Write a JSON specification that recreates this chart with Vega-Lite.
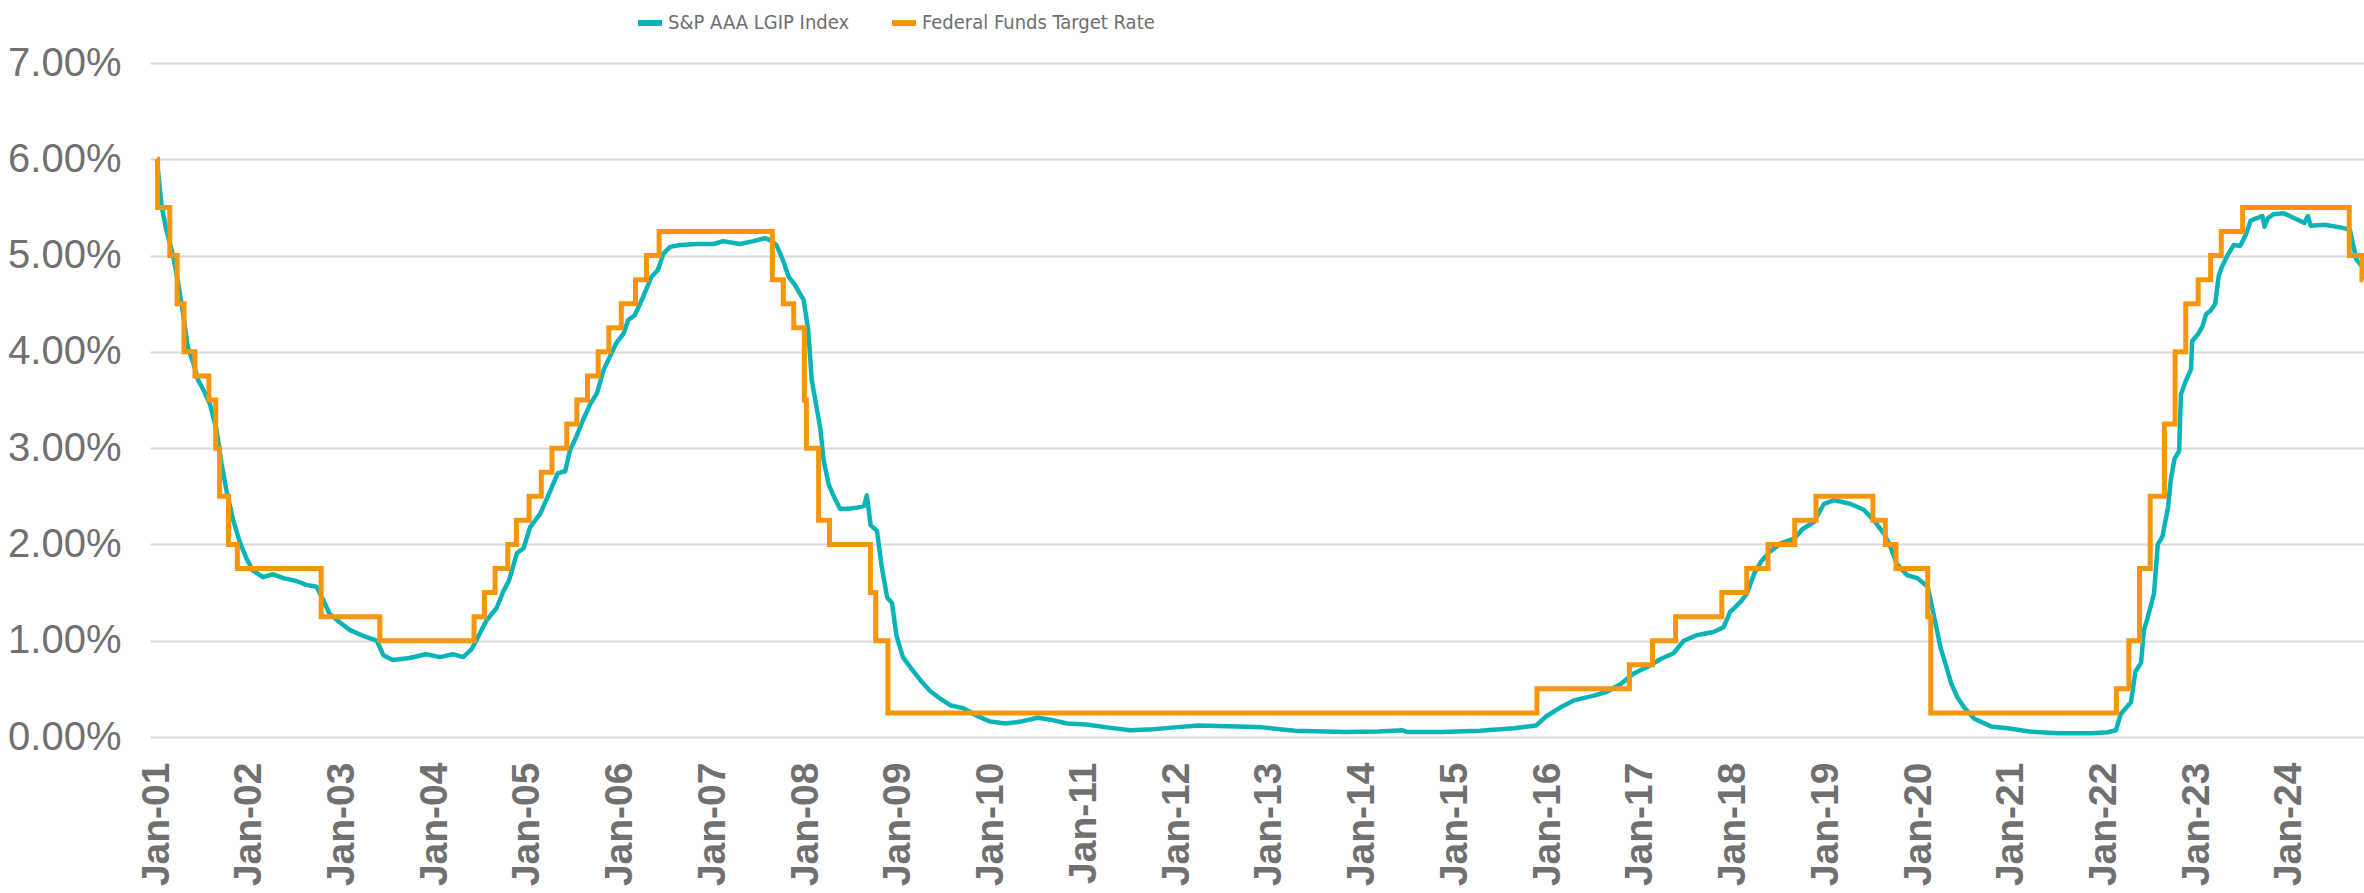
{
  "$schema": "https://vega.github.io/schema/vega-lite/v6.json",
  "width": 2214,
  "height": 674,
  "autosize": {"type": "none"},
  "padding": {"left": 150, "top": 63, "right": 0, "bottom": 156},
  "background": "white",
  "config": {
    "view": {"stroke": null},
    "font": "Liberation Sans"
  },
  "datasets": {
    "lgip": [
      {"date": "2001-01-28", "rate": 6.00, "series": "S&P AAA LGIP Index"},
      {"date": "2001-02-16", "rate": 5.51, "series": "S&P AAA LGIP Index"},
      {"date": "2001-03-07", "rate": 5.26, "series": "S&P AAA LGIP Index"},
      {"date": "2001-04-02", "rate": 5.00, "series": "S&P AAA LGIP Index"},
      {"date": "2001-04-23", "rate": 4.70, "series": "S&P AAA LGIP Index"},
      {"date": "2001-05-11", "rate": 4.40, "series": "S&P AAA LGIP Index"},
      {"date": "2001-05-30", "rate": 4.05, "series": "S&P AAA LGIP Index"},
      {"date": "2001-06-21", "rate": 3.88, "series": "S&P AAA LGIP Index"},
      {"date": "2001-07-09", "rate": 3.71, "series": "S&P AAA LGIP Index"},
      {"date": "2001-08-04", "rate": 3.58, "series": "S&P AAA LGIP Index"},
      {"date": "2001-08-26", "rate": 3.45, "series": "S&P AAA LGIP Index"},
      {"date": "2001-09-20", "rate": 3.19, "series": "S&P AAA LGIP Index"},
      {"date": "2001-10-09", "rate": 2.85, "series": "S&P AAA LGIP Index"},
      {"date": "2001-10-30", "rate": 2.55, "series": "S&P AAA LGIP Index"},
      {"date": "2001-11-25", "rate": 2.25, "series": "S&P AAA LGIP Index"},
      {"date": "2001-12-20", "rate": 2.03, "series": "S&P AAA LGIP Index"},
      {"date": "2002-01-15", "rate": 1.86, "series": "S&P AAA LGIP Index"},
      {"date": "2002-02-10", "rate": 1.73, "series": "S&P AAA LGIP Index"},
      {"date": "2002-03-22", "rate": 1.66, "series": "S&P AAA LGIP Index"},
      {"date": "2002-05-01", "rate": 1.69, "series": "S&P AAA LGIP Index"},
      {"date": "2002-06-10", "rate": 1.65, "series": "S&P AAA LGIP Index"},
      {"date": "2002-07-31", "rate": 1.62, "series": "S&P AAA LGIP Index"},
      {"date": "2002-09-09", "rate": 1.58, "series": "S&P AAA LGIP Index"},
      {"date": "2002-10-19", "rate": 1.56, "series": "S&P AAA LGIP Index"},
      {"date": "2002-11-13", "rate": 1.43, "series": "S&P AAA LGIP Index"},
      {"date": "2002-12-09", "rate": 1.28, "series": "S&P AAA LGIP Index"},
      {"date": "2003-01-19", "rate": 1.19, "series": "S&P AAA LGIP Index"},
      {"date": "2003-02-28", "rate": 1.11, "series": "S&P AAA LGIP Index"},
      {"date": "2003-04-20", "rate": 1.05, "series": "S&P AAA LGIP Index"},
      {"date": "2003-06-13", "rate": 1.00, "series": "S&P AAA LGIP Index"},
      {"date": "2003-07-09", "rate": 0.85, "series": "S&P AAA LGIP Index"},
      {"date": "2003-08-15", "rate": 0.80, "series": "S&P AAA LGIP Index"},
      {"date": "2003-10-20", "rate": 0.82, "series": "S&P AAA LGIP Index"},
      {"date": "2003-12-24", "rate": 0.86, "series": "S&P AAA LGIP Index"},
      {"date": "2004-02-17", "rate": 0.83, "series": "S&P AAA LGIP Index"},
      {"date": "2004-04-08", "rate": 0.86, "series": "S&P AAA LGIP Index"},
      {"date": "2004-05-18", "rate": 0.83, "series": "S&P AAA LGIP Index"},
      {"date": "2004-06-20", "rate": 0.91, "series": "S&P AAA LGIP Index"},
      {"date": "2004-07-16", "rate": 1.04, "series": "S&P AAA LGIP Index"},
      {"date": "2004-08-18", "rate": 1.21, "series": "S&P AAA LGIP Index"},
      {"date": "2004-09-27", "rate": 1.34, "series": "S&P AAA LGIP Index"},
      {"date": "2004-10-23", "rate": 1.51, "series": "S&P AAA LGIP Index"},
      {"date": "2004-11-14", "rate": 1.62, "series": "S&P AAA LGIP Index"},
      {"date": "2004-12-16", "rate": 1.91, "series": "S&P AAA LGIP Index"},
      {"date": "2005-01-11", "rate": 1.96, "series": "S&P AAA LGIP Index"},
      {"date": "2005-02-06", "rate": 2.18, "series": "S&P AAA LGIP Index"},
      {"date": "2005-03-18", "rate": 2.32, "series": "S&P AAA LGIP Index"},
      {"date": "2005-04-27", "rate": 2.56, "series": "S&P AAA LGIP Index"},
      {"date": "2005-05-26", "rate": 2.74, "series": "S&P AAA LGIP Index"},
      {"date": "2005-06-24", "rate": 2.76, "series": "S&P AAA LGIP Index"},
      {"date": "2005-07-13", "rate": 2.98, "series": "S&P AAA LGIP Index"},
      {"date": "2005-08-07", "rate": 3.12, "series": "S&P AAA LGIP Index"},
      {"date": "2005-09-02", "rate": 3.29, "series": "S&P AAA LGIP Index"},
      {"date": "2005-10-01", "rate": 3.46, "series": "S&P AAA LGIP Index"},
      {"date": "2005-10-27", "rate": 3.57, "series": "S&P AAA LGIP Index"},
      {"date": "2005-11-22", "rate": 3.81, "series": "S&P AAA LGIP Index"},
      {"date": "2005-12-17", "rate": 3.95, "series": "S&P AAA LGIP Index"},
      {"date": "2006-01-11", "rate": 4.09, "series": "S&P AAA LGIP Index"},
      {"date": "2006-02-09", "rate": 4.19, "series": "S&P AAA LGIP Index"},
      {"date": "2006-02-27", "rate": 4.33, "series": "S&P AAA LGIP Index"},
      {"date": "2006-03-25", "rate": 4.38, "series": "S&P AAA LGIP Index"},
      {"date": "2006-04-27", "rate": 4.57, "series": "S&P AAA LGIP Index"},
      {"date": "2006-05-30", "rate": 4.78, "series": "S&P AAA LGIP Index"},
      {"date": "2006-06-24", "rate": 4.85, "series": "S&P AAA LGIP Index"},
      {"date": "2006-07-16", "rate": 5.02, "series": "S&P AAA LGIP Index"},
      {"date": "2006-08-11", "rate": 5.09, "series": "S&P AAA LGIP Index"},
      {"date": "2006-09-20", "rate": 5.11, "series": "S&P AAA LGIP Index"},
      {"date": "2006-11-25", "rate": 5.12, "series": "S&P AAA LGIP Index"},
      {"date": "2007-01-30", "rate": 5.12, "series": "S&P AAA LGIP Index"},
      {"date": "2007-03-08", "rate": 5.15, "series": "S&P AAA LGIP Index"},
      {"date": "2007-05-12", "rate": 5.12, "series": "S&P AAA LGIP Index"},
      {"date": "2007-07-06", "rate": 5.15, "series": "S&P AAA LGIP Index"},
      {"date": "2007-08-19", "rate": 5.18, "series": "S&P AAA LGIP Index"},
      {"date": "2007-09-09", "rate": 5.16, "series": "S&P AAA LGIP Index"},
      {"date": "2007-10-04", "rate": 5.11, "series": "S&P AAA LGIP Index"},
      {"date": "2007-10-30", "rate": 4.95, "series": "S&P AAA LGIP Index"},
      {"date": "2007-11-21", "rate": 4.78, "series": "S&P AAA LGIP Index"},
      {"date": "2007-12-17", "rate": 4.69, "series": "S&P AAA LGIP Index"},
      {"date": "2008-01-19", "rate": 4.54, "series": "S&P AAA LGIP Index"},
      {"date": "2008-02-06", "rate": 4.23, "series": "S&P AAA LGIP Index"},
      {"date": "2008-02-20", "rate": 3.71, "series": "S&P AAA LGIP Index"},
      {"date": "2008-03-25", "rate": 3.20, "series": "S&P AAA LGIP Index"},
      {"date": "2008-04-07", "rate": 2.87, "series": "S&P AAA LGIP Index"},
      {"date": "2008-04-27", "rate": 2.62, "series": "S&P AAA LGIP Index"},
      {"date": "2008-05-15", "rate": 2.51, "series": "S&P AAA LGIP Index"},
      {"date": "2008-06-10", "rate": 2.37, "series": "S&P AAA LGIP Index"},
      {"date": "2008-07-10", "rate": 2.37, "series": "S&P AAA LGIP Index"},
      {"date": "2008-08-15", "rate": 2.38, "series": "S&P AAA LGIP Index"},
      {"date": "2008-09-13", "rate": 2.40, "series": "S&P AAA LGIP Index"},
      {"date": "2008-09-24", "rate": 2.51, "series": "S&P AAA LGIP Index"},
      {"date": "2008-10-09", "rate": 2.20, "series": "S&P AAA LGIP Index"},
      {"date": "2008-11-03", "rate": 2.14, "series": "S&P AAA LGIP Index"},
      {"date": "2008-11-21", "rate": 1.78, "series": "S&P AAA LGIP Index"},
      {"date": "2008-12-13", "rate": 1.45, "series": "S&P AAA LGIP Index"},
      {"date": "2009-01-01", "rate": 1.39, "series": "S&P AAA LGIP Index"},
      {"date": "2009-01-19", "rate": 1.05, "series": "S&P AAA LGIP Index"},
      {"date": "2009-02-13", "rate": 0.83, "series": "S&P AAA LGIP Index"},
      {"date": "2009-03-18", "rate": 0.71, "series": "S&P AAA LGIP Index"},
      {"date": "2009-04-23", "rate": 0.59, "series": "S&P AAA LGIP Index"},
      {"date": "2009-05-30", "rate": 0.48, "series": "S&P AAA LGIP Index"},
      {"date": "2009-07-09", "rate": 0.40, "series": "S&P AAA LGIP Index"},
      {"date": "2009-08-18", "rate": 0.33, "series": "S&P AAA LGIP Index"},
      {"date": "2009-10-08", "rate": 0.30, "series": "S&P AAA LGIP Index"},
      {"date": "2009-12-02", "rate": 0.22, "series": "S&P AAA LGIP Index"},
      {"date": "2010-01-23", "rate": 0.16, "series": "S&P AAA LGIP Index"},
      {"date": "2010-03-24", "rate": 0.14, "series": "S&P AAA LGIP Index"},
      {"date": "2010-05-23", "rate": 0.16, "series": "S&P AAA LGIP Index"},
      {"date": "2010-07-28", "rate": 0.20, "series": "S&P AAA LGIP Index"},
      {"date": "2010-09-17", "rate": 0.18, "series": "S&P AAA LGIP Index"},
      {"date": "2010-11-22", "rate": 0.14, "series": "S&P AAA LGIP Index"},
      {"date": "2011-02-06", "rate": 0.13, "series": "S&P AAA LGIP Index"},
      {"date": "2011-04-28", "rate": 0.10, "series": "S&P AAA LGIP Index"},
      {"date": "2011-07-28", "rate": 0.07, "series": "S&P AAA LGIP Index"},
      {"date": "2011-10-27", "rate": 0.08, "series": "S&P AAA LGIP Index"},
      {"date": "2012-01-19", "rate": 0.10, "series": "S&P AAA LGIP Index"},
      {"date": "2012-04-22", "rate": 0.12, "series": "S&P AAA LGIP Index"},
      {"date": "2012-09-24", "rate": 0.11, "series": "S&P AAA LGIP Index"},
      {"date": "2012-12-28", "rate": 0.10, "series": "S&P AAA LGIP Index"},
      {"date": "2013-05-08", "rate": 0.066, "series": "S&P AAA LGIP Index"},
      {"date": "2013-11-18", "rate": 0.052, "series": "S&P AAA LGIP Index"},
      {"date": "2014-04-02", "rate": 0.056, "series": "S&P AAA LGIP Index"},
      {"date": "2014-07-05", "rate": 0.07, "series": "S&P AAA LGIP Index"},
      {"date": "2014-07-24", "rate": 0.052, "series": "S&P AAA LGIP Index"},
      {"date": "2014-12-06", "rate": 0.052, "series": "S&P AAA LGIP Index"},
      {"date": "2015-05-05", "rate": 0.066, "series": "S&P AAA LGIP Index"},
      {"date": "2015-09-16", "rate": 0.09, "series": "S&P AAA LGIP Index"},
      {"date": "2015-12-13", "rate": 0.12, "series": "S&P AAA LGIP Index"},
      {"date": "2016-01-19", "rate": 0.21, "series": "S&P AAA LGIP Index"},
      {"date": "2016-03-26", "rate": 0.32, "series": "S&P AAA LGIP Index"},
      {"date": "2016-05-09", "rate": 0.38, "series": "S&P AAA LGIP Index"},
      {"date": "2016-07-27", "rate": 0.43, "series": "S&P AAA LGIP Index"},
      {"date": "2016-09-16", "rate": 0.47, "series": "S&P AAA LGIP Index"},
      {"date": "2016-11-10", "rate": 0.55, "series": "S&P AAA LGIP Index"},
      {"date": "2016-12-31", "rate": 0.66, "series": "S&P AAA LGIP Index"},
      {"date": "2017-02-24", "rate": 0.73, "series": "S&P AAA LGIP Index"},
      {"date": "2017-04-16", "rate": 0.81, "series": "S&P AAA LGIP Index"},
      {"date": "2017-06-06", "rate": 0.87, "series": "S&P AAA LGIP Index"},
      {"date": "2017-07-16", "rate": 1.00, "series": "S&P AAA LGIP Index"},
      {"date": "2017-09-09", "rate": 1.06, "series": "S&P AAA LGIP Index"},
      {"date": "2017-11-10", "rate": 1.09, "series": "S&P AAA LGIP Index"},
      {"date": "2017-12-20", "rate": 1.14, "series": "S&P AAA LGIP Index"},
      {"date": "2018-01-15", "rate": 1.30, "series": "S&P AAA LGIP Index"},
      {"date": "2018-02-24", "rate": 1.40, "series": "S&P AAA LGIP Index"},
      {"date": "2018-03-22", "rate": 1.49, "series": "S&P AAA LGIP Index"},
      {"date": "2018-04-20", "rate": 1.70, "series": "S&P AAA LGIP Index"},
      {"date": "2018-05-16", "rate": 1.82, "series": "S&P AAA LGIP Index"},
      {"date": "2018-06-18", "rate": 1.92, "series": "S&P AAA LGIP Index"},
      {"date": "2018-08-01", "rate": 2.01, "series": "S&P AAA LGIP Index"},
      {"date": "2018-09-24", "rate": 2.06, "series": "S&P AAA LGIP Index"},
      {"date": "2018-10-27", "rate": 2.16, "series": "S&P AAA LGIP Index"},
      {"date": "2018-12-09", "rate": 2.23, "series": "S&P AAA LGIP Index"},
      {"date": "2019-01-19", "rate": 2.42, "series": "S&P AAA LGIP Index"},
      {"date": "2019-02-28", "rate": 2.46, "series": "S&P AAA LGIP Index"},
      {"date": "2019-05-05", "rate": 2.42, "series": "S&P AAA LGIP Index"},
      {"date": "2019-06-25", "rate": 2.36, "series": "S&P AAA LGIP Index"},
      {"date": "2019-08-04", "rate": 2.25, "series": "S&P AAA LGIP Index"},
      {"date": "2019-09-13", "rate": 2.11, "series": "S&P AAA LGIP Index"},
      {"date": "2019-10-09", "rate": 1.97, "series": "S&P AAA LGIP Index"},
      {"date": "2019-11-02", "rate": 1.80, "series": "S&P AAA LGIP Index"},
      {"date": "2019-12-13", "rate": 1.68, "series": "S&P AAA LGIP Index"},
      {"date": "2020-01-22", "rate": 1.65, "series": "S&P AAA LGIP Index"},
      {"date": "2020-03-03", "rate": 1.56, "series": "S&P AAA LGIP Index"},
      {"date": "2020-03-28", "rate": 1.25, "series": "S&P AAA LGIP Index"},
      {"date": "2020-04-23", "rate": 0.92, "series": "S&P AAA LGIP Index"},
      {"date": "2020-05-12", "rate": 0.76, "series": "S&P AAA LGIP Index"},
      {"date": "2020-06-03", "rate": 0.56, "series": "S&P AAA LGIP Index"},
      {"date": "2020-06-28", "rate": 0.41, "series": "S&P AAA LGIP Index"},
      {"date": "2020-07-24", "rate": 0.31, "series": "S&P AAA LGIP Index"},
      {"date": "2020-09-02", "rate": 0.19, "series": "S&P AAA LGIP Index"},
      {"date": "2020-11-07", "rate": 0.11, "series": "S&P AAA LGIP Index"},
      {"date": "2021-01-12", "rate": 0.09, "series": "S&P AAA LGIP Index"},
      {"date": "2021-04-13", "rate": 0.055, "series": "S&P AAA LGIP Index"},
      {"date": "2021-07-28", "rate": 0.04, "series": "S&P AAA LGIP Index"},
      {"date": "2021-12-06", "rate": 0.04, "series": "S&P AAA LGIP Index"},
      {"date": "2022-02-10", "rate": 0.05, "series": "S&P AAA LGIP Index"},
      {"date": "2022-03-14", "rate": 0.07, "series": "S&P AAA LGIP Index"},
      {"date": "2022-04-02", "rate": 0.24, "series": "S&P AAA LGIP Index"},
      {"date": "2022-05-12", "rate": 0.36, "series": "S&P AAA LGIP Index"},
      {"date": "2022-05-30", "rate": 0.68, "series": "S&P AAA LGIP Index"},
      {"date": "2022-06-21", "rate": 0.77, "series": "S&P AAA LGIP Index"},
      {"date": "2022-07-02", "rate": 1.11, "series": "S&P AAA LGIP Index"},
      {"date": "2022-07-16", "rate": 1.23, "series": "S&P AAA LGIP Index"},
      {"date": "2022-08-11", "rate": 1.49, "series": "S&P AAA LGIP Index"},
      {"date": "2022-08-26", "rate": 2.00, "series": "S&P AAA LGIP Index"},
      {"date": "2022-09-13", "rate": 2.08, "series": "S&P AAA LGIP Index"},
      {"date": "2022-10-05", "rate": 2.38, "series": "S&P AAA LGIP Index"},
      {"date": "2022-10-16", "rate": 2.67, "series": "S&P AAA LGIP Index"},
      {"date": "2022-10-31", "rate": 2.89, "series": "S&P AAA LGIP Index"},
      {"date": "2022-11-18", "rate": 2.97, "series": "S&P AAA LGIP Index"},
      {"date": "2022-11-25", "rate": 3.56, "series": "S&P AAA LGIP Index"},
      {"date": "2022-12-13", "rate": 3.69, "series": "S&P AAA LGIP Index"},
      {"date": "2023-01-04", "rate": 3.82, "series": "S&P AAA LGIP Index"},
      {"date": "2023-01-08", "rate": 4.11, "series": "S&P AAA LGIP Index"},
      {"date": "2023-01-30", "rate": 4.18, "series": "S&P AAA LGIP Index"},
      {"date": "2023-02-17", "rate": 4.26, "series": "S&P AAA LGIP Index"},
      {"date": "2023-03-04", "rate": 4.39, "series": "S&P AAA LGIP Index"},
      {"date": "2023-03-22", "rate": 4.43, "series": "S&P AAA LGIP Index"},
      {"date": "2023-04-09", "rate": 4.50, "series": "S&P AAA LGIP Index"},
      {"date": "2023-04-23", "rate": 4.79, "series": "S&P AAA LGIP Index"},
      {"date": "2023-05-05", "rate": 4.88, "series": "S&P AAA LGIP Index"},
      {"date": "2023-05-27", "rate": 5.00, "series": "S&P AAA LGIP Index"},
      {"date": "2023-06-21", "rate": 5.11, "series": "S&P AAA LGIP Index"},
      {"date": "2023-07-16", "rate": 5.10, "series": "S&P AAA LGIP Index"},
      {"date": "2023-08-08", "rate": 5.22, "series": "S&P AAA LGIP Index"},
      {"date": "2023-08-26", "rate": 5.36, "series": "S&P AAA LGIP Index"},
      {"date": "2023-09-20", "rate": 5.39, "series": "S&P AAA LGIP Index"},
      {"date": "2023-10-12", "rate": 5.41, "series": "S&P AAA LGIP Index"},
      {"date": "2023-10-20", "rate": 5.30, "series": "S&P AAA LGIP Index"},
      {"date": "2023-11-03", "rate": 5.39, "series": "S&P AAA LGIP Index"},
      {"date": "2023-11-25", "rate": 5.43, "series": "S&P AAA LGIP Index"},
      {"date": "2024-01-04", "rate": 5.44, "series": "S&P AAA LGIP Index"},
      {"date": "2024-02-13", "rate": 5.39, "series": "S&P AAA LGIP Index"},
      {"date": "2024-03-25", "rate": 5.34, "series": "S&P AAA LGIP Index"},
      {"date": "2024-04-08", "rate": 5.41, "series": "S&P AAA LGIP Index"},
      {"date": "2024-04-19", "rate": 5.31, "series": "S&P AAA LGIP Index"},
      {"date": "2024-06-13", "rate": 5.32, "series": "S&P AAA LGIP Index"},
      {"date": "2024-08-18", "rate": 5.29, "series": "S&P AAA LGIP Index"},
      {"date": "2024-09-20", "rate": 5.27, "series": "S&P AAA LGIP Index"},
      {"date": "2024-10-16", "rate": 4.96, "series": "S&P AAA LGIP Index"},
      {"date": "2024-11-09", "rate": 4.88, "series": "S&P AAA LGIP Index"}
    ],
    "ffr": [
      {"date": "2001-01-28", "rate": 6.00, "series": "Federal Funds Target Rate"},
      {"date": "2001-01-31", "rate": 5.50, "series": "Federal Funds Target Rate"},
      {"date": "2001-03-20", "rate": 5.00, "series": "Federal Funds Target Rate"},
      {"date": "2001-04-18", "rate": 4.50, "series": "Federal Funds Target Rate"},
      {"date": "2001-05-15", "rate": 4.00, "series": "Federal Funds Target Rate"},
      {"date": "2001-06-27", "rate": 3.75, "series": "Federal Funds Target Rate"},
      {"date": "2001-08-21", "rate": 3.50, "series": "Federal Funds Target Rate"},
      {"date": "2001-09-17", "rate": 3.00, "series": "Federal Funds Target Rate"},
      {"date": "2001-10-02", "rate": 2.50, "series": "Federal Funds Target Rate"},
      {"date": "2001-11-06", "rate": 2.00, "series": "Federal Funds Target Rate"},
      {"date": "2001-12-11", "rate": 1.75, "series": "Federal Funds Target Rate"},
      {"date": "2002-11-06", "rate": 1.25, "series": "Federal Funds Target Rate"},
      {"date": "2003-06-25", "rate": 1.00, "series": "Federal Funds Target Rate"},
      {"date": "2004-06-30", "rate": 1.25, "series": "Federal Funds Target Rate"},
      {"date": "2004-08-10", "rate": 1.50, "series": "Federal Funds Target Rate"},
      {"date": "2004-09-21", "rate": 1.75, "series": "Federal Funds Target Rate"},
      {"date": "2004-11-10", "rate": 2.00, "series": "Federal Funds Target Rate"},
      {"date": "2004-12-14", "rate": 2.25, "series": "Federal Funds Target Rate"},
      {"date": "2005-02-02", "rate": 2.50, "series": "Federal Funds Target Rate"},
      {"date": "2005-03-22", "rate": 2.75, "series": "Federal Funds Target Rate"},
      {"date": "2005-05-03", "rate": 3.00, "series": "Federal Funds Target Rate"},
      {"date": "2005-06-30", "rate": 3.25, "series": "Federal Funds Target Rate"},
      {"date": "2005-08-09", "rate": 3.50, "series": "Federal Funds Target Rate"},
      {"date": "2005-09-20", "rate": 3.75, "series": "Federal Funds Target Rate"},
      {"date": "2005-11-01", "rate": 4.00, "series": "Federal Funds Target Rate"},
      {"date": "2005-12-13", "rate": 4.25, "series": "Federal Funds Target Rate"},
      {"date": "2006-01-31", "rate": 4.50, "series": "Federal Funds Target Rate"},
      {"date": "2006-03-28", "rate": 4.75, "series": "Federal Funds Target Rate"},
      {"date": "2006-05-10", "rate": 5.00, "series": "Federal Funds Target Rate"},
      {"date": "2006-06-29", "rate": 5.25, "series": "Federal Funds Target Rate"},
      {"date": "2007-09-18", "rate": 4.75, "series": "Federal Funds Target Rate"},
      {"date": "2007-10-31", "rate": 4.50, "series": "Federal Funds Target Rate"},
      {"date": "2007-12-11", "rate": 4.25, "series": "Federal Funds Target Rate"},
      {"date": "2008-01-22", "rate": 3.50, "series": "Federal Funds Target Rate"},
      {"date": "2008-01-30", "rate": 3.00, "series": "Federal Funds Target Rate"},
      {"date": "2008-03-18", "rate": 2.25, "series": "Federal Funds Target Rate"},
      {"date": "2008-04-30", "rate": 2.00, "series": "Federal Funds Target Rate"},
      {"date": "2008-10-08", "rate": 1.50, "series": "Federal Funds Target Rate"},
      {"date": "2008-10-29", "rate": 1.00, "series": "Federal Funds Target Rate"},
      {"date": "2008-12-16", "rate": 0.25, "series": "Federal Funds Target Rate"},
      {"date": "2015-12-16", "rate": 0.50, "series": "Federal Funds Target Rate"},
      {"date": "2016-12-14", "rate": 0.75, "series": "Federal Funds Target Rate"},
      {"date": "2017-03-15", "rate": 1.00, "series": "Federal Funds Target Rate"},
      {"date": "2017-06-14", "rate": 1.25, "series": "Federal Funds Target Rate"},
      {"date": "2017-12-13", "rate": 1.50, "series": "Federal Funds Target Rate"},
      {"date": "2018-03-21", "rate": 1.75, "series": "Federal Funds Target Rate"},
      {"date": "2018-06-13", "rate": 2.00, "series": "Federal Funds Target Rate"},
      {"date": "2018-09-26", "rate": 2.25, "series": "Federal Funds Target Rate"},
      {"date": "2018-12-19", "rate": 2.50, "series": "Federal Funds Target Rate"},
      {"date": "2019-07-31", "rate": 2.25, "series": "Federal Funds Target Rate"},
      {"date": "2019-09-18", "rate": 2.00, "series": "Federal Funds Target Rate"},
      {"date": "2019-10-30", "rate": 1.75, "series": "Federal Funds Target Rate"},
      {"date": "2020-03-03", "rate": 1.25, "series": "Federal Funds Target Rate"},
      {"date": "2020-03-15", "rate": 0.25, "series": "Federal Funds Target Rate"},
      {"date": "2022-03-16", "rate": 0.50, "series": "Federal Funds Target Rate"},
      {"date": "2022-05-04", "rate": 1.00, "series": "Federal Funds Target Rate"},
      {"date": "2022-06-15", "rate": 1.75, "series": "Federal Funds Target Rate"},
      {"date": "2022-07-27", "rate": 2.50, "series": "Federal Funds Target Rate"},
      {"date": "2022-09-21", "rate": 3.25, "series": "Federal Funds Target Rate"},
      {"date": "2022-11-02", "rate": 4.00, "series": "Federal Funds Target Rate"},
      {"date": "2022-12-14", "rate": 4.50, "series": "Federal Funds Target Rate"},
      {"date": "2023-02-01", "rate": 4.75, "series": "Federal Funds Target Rate"},
      {"date": "2023-03-22", "rate": 5.00, "series": "Federal Funds Target Rate"},
      {"date": "2023-05-03", "rate": 5.25, "series": "Federal Funds Target Rate"},
      {"date": "2023-07-26", "rate": 5.50, "series": "Federal Funds Target Rate"},
      {"date": "2024-09-18", "rate": 5.00, "series": "Federal Funds Target Rate"},
      {"date": "2024-11-07", "rate": 4.75, "series": "Federal Funds Target Rate"},
      {"date": "2024-11-12", "rate": 4.75, "series": "Federal Funds Target Rate"}
    ]
  },
  "encoding": {
    "x": {
      "field": "date",
      "type": "temporal",
      "scale": {"domain": [{"year": 2001, "month": 1, "date": 1}, {"year": 2024, "month": 11, "date": 15}]},
      "axis": {
        "title": null,
        "values": [
          {"year": 2001, "month": 1, "date": 1}, {"year": 2002, "month": 1, "date": 1}, {"year": 2003, "month": 1, "date": 1},
          {"year": 2004, "month": 1, "date": 1}, {"year": 2005, "month": 1, "date": 1}, {"year": 2006, "month": 1, "date": 1},
          {"year": 2007, "month": 1, "date": 1}, {"year": 2008, "month": 1, "date": 1}, {"year": 2009, "month": 1, "date": 1},
          {"year": 2010, "month": 1, "date": 1}, {"year": 2011, "month": 1, "date": 1}, {"year": 2012, "month": 1, "date": 1},
          {"year": 2013, "month": 1, "date": 1}, {"year": 2014, "month": 1, "date": 1}, {"year": 2015, "month": 1, "date": 1},
          {"year": 2016, "month": 1, "date": 1}, {"year": 2017, "month": 1, "date": 1}, {"year": 2018, "month": 1, "date": 1},
          {"year": 2019, "month": 1, "date": 1}, {"year": 2020, "month": 1, "date": 1}, {"year": 2021, "month": 1, "date": 1},
          {"year": 2022, "month": 1, "date": 1}, {"year": 2023, "month": 1, "date": 1}, {"year": 2024, "month": 1, "date": 1}
        ],
        "format": "%b-%y",
        "labelAngle": -90,
        "labelAlign": "right",
        "labelBaseline": "middle",
        "labelFont": "Liberation Sans",
        "labelFontSize": 39,
        "labelFontWeight": "bold",
        "labelColor": "#707070",
        "labelPadding": 25,
        "labelOffset": 6,
        "labelBound": false,
        "labelFlush": false,
        "labelOverlap": false,
        "ticks": false,
        "tickSize": 0,
        "domain": false,
        "grid": false
      }
    },
    "y": {
      "field": "rate",
      "type": "quantitative",
      "scale": {"domain": [0, 7], "nice": false, "zero": true},
      "axis": {
        "title": null,
        "values": [0, 1, 2, 3, 4, 5, 6, 7],
        "labelExpr": "format(datum.value, '.2f') + '%'",
        "labelFont": "Liberation Sans",
        "labelFontSize": 40,
        "labelColor": "#707070",
        "labelPadding": 29,
        "labelBound": false,
        "labelFlush": false,
        "ticks": false,
        "tickSize": 0,
        "domain": false,
        "grid": true,
        "gridColor": "#D9D9D9",
        "gridWidth": 2
      }
    },
    "color": {
      "field": "series",
      "type": "nominal",
      "scale": {
        "domain": ["S&P AAA LGIP Index", "Federal Funds Target Rate"],
        "range": ["#0AB3B8", "#F7960A"]
      },
      "legend": {
        "title": null,
        "orient": "none",
        "legendX": 485,
        "legendY": -55,
        "direction": "horizontal",
        "symbolType": "stroke",
        "symbolSize": 576,
        "symbolStrokeWidth": 6,
        "labelFont": "DejaVu Sans Condensed, Liberation Sans",
        "labelFontSize": 20,
        "labelLimit": 0,
        "labelColor": "#6E6E6E",
        "labelOffset": 3,
        "columnPadding": 30,
        "padding": 0
      }
    }
  },
  "layer": [
    {
      "data": {"name": "lgip"},
      "mark": {"type": "line", "strokeWidth": 4.5, "interpolate": "linear", "strokeJoin": "round"}
    },
    {
      "data": {"name": "ffr"},
      "mark": {"type": "line", "strokeWidth": 5, "interpolate": "step-after", "strokeJoin": "miter"}
    }
  ]
}
